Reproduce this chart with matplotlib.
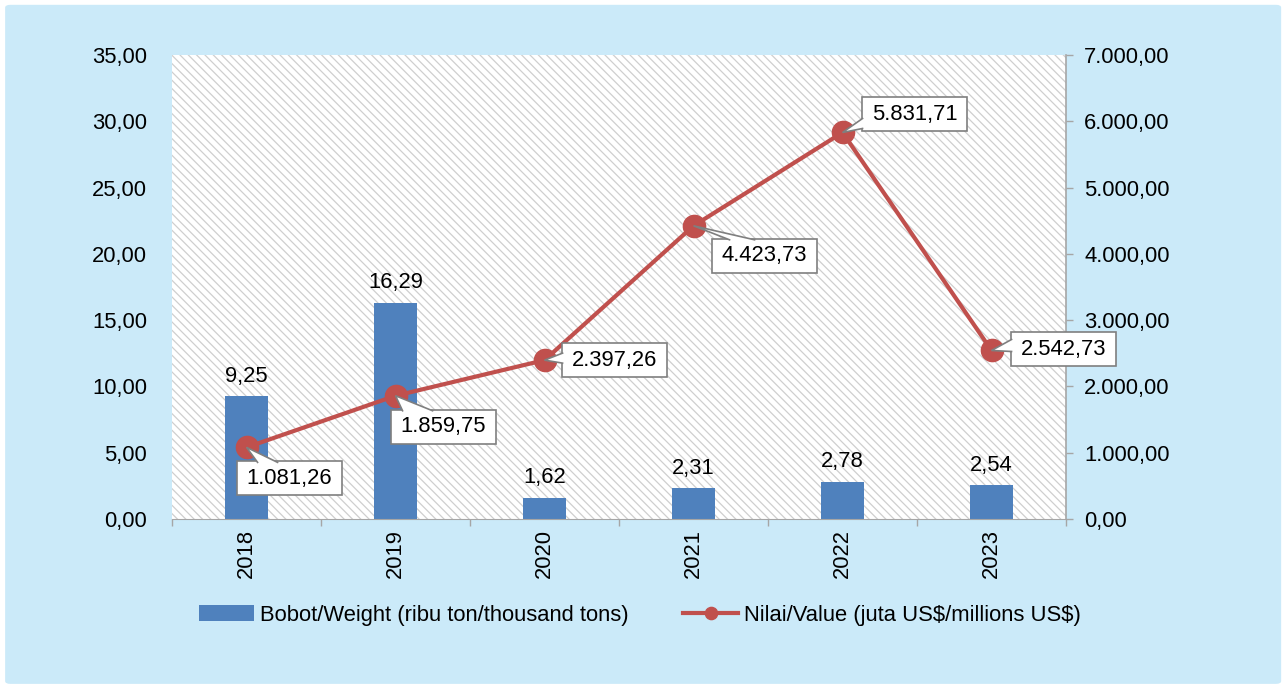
import numpy as np
import matplotlib.pyplot as plt
from matplotlib.patches import FancyBboxPatch, Rectangle, Polygon
from matplotlib.lines import Line2D
from matplotlib.transforms import ScaledTranslation

plt.rcParams['font.family'] = ['Liberation Sans', 'DejaVu Sans']
plt.rcParams['hatch.linewidth'] = 0.9

years = ['2018', '2019', '2020', '2021', '2022', '2023']
weight = [9.25, 16.29, 1.62, 2.31, 2.78, 2.54]
value = [1081.26, 1859.75, 2397.26, 4423.73, 5831.71, 2542.73]
weight_lbl = ['9,25', '16,29', '1,62', '2,31', '2,78', '2,54']
value_lbl = ['1.081,26', '1.859,75', '2.397,26', '4.423,73', '5.831,71', '2.542,73']

# callout layout, in pixels relative to the marker (y up)
box_off = [(43, -31), (48, -31), (70, 0), (71, -30), (72, 18), (72, 1)]
ptr_base = [((11, -15), (31, -15)), ((7, -15), (37, -15)), ((18, 7), (18, -3)),
            ((36, -14), (61, -14)), ((20, 14), (20, 4)), ((20, 11), (20, -1))]
box_w, box_h = 105, 34

bar_col = '#4F81BD'
line_col = '#C0504D'
grey = '#A6A6A6'
box_ec = '#7F7F7F'
fs = 15.8

fig = plt.figure(figsize=(12.85, 6.88), dpi=100)
fig.patches.append(FancyBboxPatch((0.004, 0.006), 0.993, 0.987,
                                  boxstyle='round,pad=0,rounding_size=0.004',
                                  transform=fig.transFigure, fc='#CBEAF9', ec='none', zorder=-5))

ax = fig.add_axes([0.1339, 0.2456, 0.6957, 0.6744])
ax.set_facecolor('white')
ax.add_patch(Rectangle((0, 0), 1, 1, transform=ax.transAxes, fc='white',
                       ec='#CFCFCF', lw=0, hatch='\\' * 4, zorder=0))

x = np.arange(len(years))
ax.bar(x, weight, width=0.29, color=bar_col, zorder=2,
       label='Bobot/Weight (ribu ton/thousand tons)')
for xi, w, t in zip(x, weight, weight_lbl):
    ax.annotate(t, (xi, w), xytext=(0, 7), textcoords='offset points',
                ha='center', va='bottom', fontsize=fs)

ax.set_xlim(-0.5, 5.5)
ax.set_ylim(0, 35)
ax.set_yticks(np.arange(0, 36, 5))
ax.set_yticklabels([f'{v:.2f}'.replace('.', ',') for v in np.arange(0, 36, 5)], fontsize=fs)
ax.set_xticks(x)
ax.set_xticklabels(years, rotation=90, fontsize=fs)
ax.set_xticks(np.arange(-0.5, 6, 1), minor=True)
ax.tick_params(axis='x', which='major', length=0, pad=7)
ax.tick_params(axis='x', which='minor', length=5, color=grey, width=1)
ax.tick_params(axis='y', length=0, pad=18)
for s in ['left', 'top', 'right']:
    ax.spines[s].set_visible(False)
ax.spines['bottom'].set_color(grey)

ax2 = ax.twinx()
ax2.plot(x, value, color=line_col, lw=3, marker='o', ms=16, zorder=3,
         label='Nilai/Value (juta US\\$/millions US\\$)')
ax2.set_ylim(0, 7000)
ticks2 = np.arange(0, 7001, 1000)
ax2.set_yticks(ticks2)
ax2.set_yticklabels([f'{v:,.2f}'.replace(',', 'X').replace('.', ',').replace('X', '.') for v in ticks2],
                    fontsize=fs)
ax2.tick_params(axis='y', length=5, color=grey, width=1, pad=8)
for s in ['left', 'top', 'bottom']:
    ax2.spines[s].set_visible(False)
ax2.spines['right'].set_color(grey)
ax2.spines['right'].set_linewidth(1.2)

# callout boxes with pointers
for xi, v, t, (bx, by), (b1, b2) in zip(x, value, value_lbl, box_off, ptr_base):
    tr = fig.dpi_scale_trans + ScaledTranslation(xi, v, ax2.transData)
    bx, by = bx / 100, by / 100
    w, h = box_w / 100, box_h / 100
    ax2.add_patch(Rectangle((bx - w / 2, by - h / 2), w, h, transform=tr, fc='white',
                            ec=box_ec, lw=1.2, zorder=5, clip_on=False))
    p1 = np.array(b1) / 100
    p2 = np.array(b2) / 100
    inward = (np.array([bx, by]) - (p1 + p2) / 2)
    inward = inward / np.linalg.norm(inward) * 0.03
    ax2.add_patch(Polygon([p1 + inward, p1, (0, 0), p2, p2 + inward], closed=True,
                          transform=tr, fc='white', ec='none', zorder=6, clip_on=False))
    ax2.add_line(Line2D([p1[0], 0, p2[0]], [p1[1], 0, p2[1]], transform=tr, color=box_ec,
                        lw=1.2, zorder=6, clip_on=False, solid_joinstyle='miter'))
    ax2.text(bx, by, t, transform=tr, ha='center', va='center', fontsize=fs, zorder=7)

h1, l1 = ax.get_legend_handles_labels()
h2, l2 = ax2.get_legend_handles_labels()
fig.legend(h1 + h2, l1 + l2, loc='center', bbox_to_anchor=(0.498, 0.106), ncol=2,
           frameon=False, fontsize=fs, columnspacing=2.5, handlelength=2.5,
           handletextpad=0.25, markerscale=0.55)

fig.savefig('out.png', dpi=100)
